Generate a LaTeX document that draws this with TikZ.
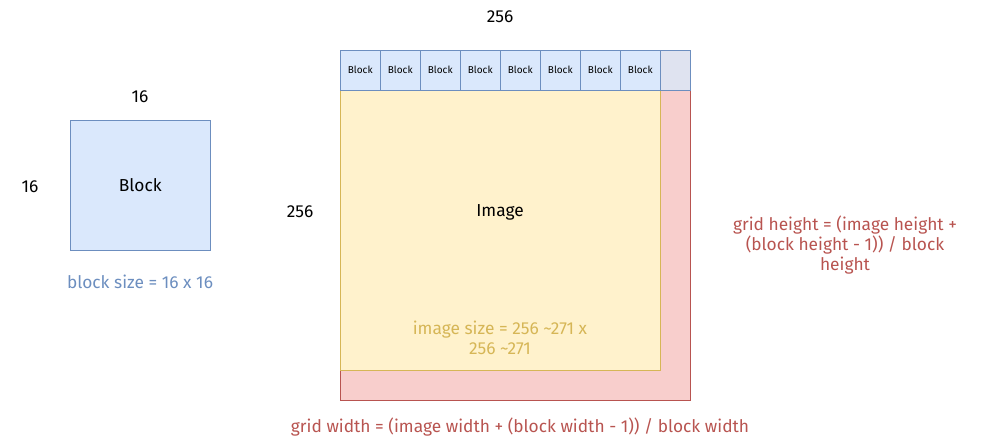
\documentclass[tikz,border=0pt]{standalone}
\usepackage{fontspec}
\setmainfont{Fira Sans}
\usetikzlibrary{positioning}
\definecolor{blockfill}{HTML}{DAE8FC}
\definecolor{blockline}{HTML}{6C8EBF}
\definecolor{imgfill}{HTML}{FFF2CC}
\definecolor{imgline}{HTML}{D6B656}
\definecolor{gridfill}{HTML}{F8CECC}
\definecolor{gridline}{HTML}{B85450}
\definecolor{padfill}{HTML}{DFE3F0}

\begin{document}
\begin{tikzpicture}[
    x=0.75pt, y=-0.75pt,
    blockbox/.style={rectangle, draw=blockline, fill=blockfill, inner sep=0pt, anchor=north west},
    cellbox/.style={blockbox, minimum width=30pt, minimum height=30pt, font=\fontsize{7.5}{9}\selectfont},
    label/.style={font=\fontsize{13}{15}\selectfont},
    note/.style={font=\fontsize{13}{15}\selectfont, align=center}
]
\useasboundingbox (0,0) rectangle (1001,441);

% Single block
\node[blockbox, minimum width=105pt, minimum height=97.5pt, label] (block) at (70,120) {Block};
\node[label] (bw) at (140,97) {16};
\node[label] (bh) at (30,187) {16};
\node[note, text=blockline] (bsize) at (140,282) {block size = 16 x 16};

% Grid and image
\node[rectangle, draw=gridline, fill=gridfill, minimum width=262.5pt, minimum height=232.5pt, inner sep=0pt, anchor=north west] (grid) at (340,90) {};
\node[rectangle, draw=imgline, fill=imgfill, minimum width=240pt, minimum height=210pt, inner sep=0pt, anchor=north west] (image) at (340,90) {};
\node[label] (imgtext) at (500,212) {Image};
\node[note, text=imgline] (isize) at (500,338) {image size = 256 \textasciitilde271 x\\256 \textasciitilde271};

% Row of blocks
\foreach \i in {0,...,7}
  \node[cellbox] (cell\i) at (340+40*\i,50) {Block};
\node[blockbox, fill=padfill, minimum width=22.5pt, minimum height=30pt] (pad) at (660,50) {};

\node[label] (iw) at (500,17) {256};
\node[label] (ih) at (300,212) {256};

% Formulas
\node[note, text=gridline] (gh) at (845,245) {grid height = (image height +\\(block height - 1)) / block\\height};
\node[note, text=gridline] (gw) at (520,427) {grid width = (image width + (block width - 1)) / block width};
\end{tikzpicture}
\end{document}
